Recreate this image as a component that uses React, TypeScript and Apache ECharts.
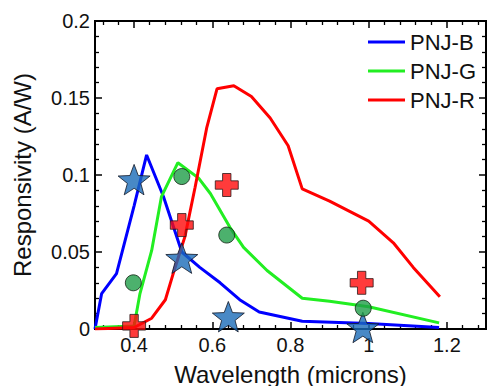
import React, { useEffect, useRef } from "react";
import * as echarts from "echarts";

const seriesNames = ["PNJ-B", "PNJ-G", "PNJ-R"];

const blueCurve: [number, number][] = [
  [0.3, 0], [0.317, 0.023], [0.355, 0.036], [0.4, 0.08], [0.432, 0.113],
  [0.475, 0.086], [0.522, 0.05], [0.568, 0.04], [0.62, 0.03], [0.67, 0.019],
  [0.72, 0.011], [0.83, 0.005], [1.0, 0.0035], [1.18, 0.001],
];

const greenCurve: [number, number][] = [
  [0.3, 0.001], [0.4, 0.002], [0.415, 0.023], [0.445, 0.051], [0.47, 0.086],
  [0.512, 0.108], [0.565, 0.098], [0.595, 0.088], [0.645, 0.066], [0.68, 0.053],
  [0.74, 0.038], [0.83, 0.02], [0.9, 0.018], [1.0, 0.0145], [1.18, 0.004],
];

const redCurve: [number, number][] = [
  [0.3, 0], [0.4, 0.001], [0.445, 0.007], [0.48, 0.019], [0.5, 0.036],
  [0.53, 0.06], [0.556, 0.092], [0.586, 0.131], [0.612, 0.156], [0.655, 0.158],
  [0.7, 0.151], [0.748, 0.137], [0.794, 0.119], [0.83, 0.091], [0.9, 0.083],
  [1.0, 0.07], [1.063, 0.056], [1.114, 0.04], [1.182, 0.021],
];

const starPoints: [number, number][] = [
  [0.4, 0.097], [0.522, 0.046], [0.641, 0.008], [0.985, 0.001],
];
const circlePoints: [number, number][] = [
  [0.398, 0.03], [0.522, 0.099], [0.637, 0.061], [0.986, 0.0135],
];
const crossPoints: [number, number][] = [
  [0.4, 0.002], [0.522, 0.0675], [0.637, 0.0935], [0.982, 0.03],
];

const xMin = 0.3;
const xMax = 1.3;
const yMin = 0;
const yMax = 0.2;

const FONT = "'Liberation Sans', Arial, sans-serif";
const STAR =
  "path://M50,0 L62.34,33.01 L97.55,34.55 L69.97,56.49 L79.39,90.45 L50,71 L20.61,90.45 L30.03,56.49 L2.45,34.55 L37.66,33.01 Z";
const CROSS = "path://M7,0 H15 V7 H22 V15 H15 V22 H7 V15 H0 V7 H7 Z";

const mkLine = () => ({ show: true, onZero: false, lineStyle: { color: "#000", width: 2 } });
const mkTick = () => ({ show: true, inside: true, length: 7, lineStyle: { color: "#000", width: 1.5 } });
const mkMinor = () => ({ show: true, splitNumber: 5, length: 4, lineStyle: { color: "#000", width: 1.3 } });

const mkX = (position: string, extra: any) => ({
  type: "value",
  position,
  min: xMin,
  max: xMax,
  splitNumber: 5,
  minInterval: 0.2,
  maxInterval: 0.2,
  axisLine: mkLine(),
  axisTick: mkTick(),
  minorTick: mkMinor(),
  splitLine: { show: false },
  ...extra,
});

const mkY = (position: string, extra: any) => ({
  type: "value",
  position,
  min: yMin,
  max: yMax,
  interval: 0.05,
  axisLine: mkLine(),
  axisTick: mkTick(),
  minorTick: mkMinor(),
  splitLine: { show: false },
  ...extra,
});

export default function App() {
  const ref = useRef<HTMLDivElement>(null);
  useEffect(() => {
    if (!ref.current) return;
    const chart = echarts.init(ref.current, undefined, { renderer: "svg" });
    const lineSeries = (name: string, data: [number, number][], color: string) => ({
      name,
      type: "line",
      data,
      showSymbol: false,
      symbol: "none",
      lineStyle: { color, width: 3 },
      itemStyle: { color },
      z: 2,
    });
    chart.setOption({
      animation: false,
      backgroundColor: "#fff",
      textStyle: { fontFamily: FONT },
      grid: {
        left: 95,
        right: 1,
        top: 21,
        bottom: 57,
        containLabel: false,
        outerBoundsMode: "none",
        show: true,
        borderColor: "#000",
        borderWidth: 2,
        backgroundColor: "transparent",
      },
      legend: {
        data: seriesNames,
        orient: "vertical",
        left: 368,
        top: 31,
        padding: 0,
        itemGap: 7,
        itemWidth: 37,
        itemHeight: 3,
        icon: "rect",
        textStyle: { fontFamily: FONT, fontSize: 22, color: "#111" },
      },
      xAxis: [
        mkX("bottom", {
          axisLabel: {
            show: true,
            showMinLabel: false,
            showMaxLabel: false,
            margin: 6,
            fontSize: 20,
            color: "#111",
            fontFamily: FONT,
          },
          name: "Wavelength (microns)",
          nameLocation: "middle",
          nameGap: 33,
          nameTextStyle: { fontSize: 24, color: "#111", fontFamily: FONT },
        }),
        mkX("top", { axisLabel: { show: false } }),
      ],
      yAxis: [
        mkY("left", {
          axisLabel: { show: true, margin: 5, fontSize: 20, color: "#111", fontFamily: FONT },
          name: "Responsivity (A/W)",
          nameLocation: "middle",
          nameGap: 61,
          nameTextStyle: { fontSize: 24, color: "#111", fontFamily: FONT },
        }),
        mkY("right", { axisLabel: { show: false } }),
      ],
      series: [
        lineSeries(seriesNames[0], blueCurve, "#0000ff"),
        lineSeries(seriesNames[1], greenCurve, "#22ee22"),
        lineSeries(seriesNames[2], redCurve, "#ff0000"),
        {
          name: "stars",
          type: "scatter",
          data: starPoints,
          symbol: STAR,
          symbolSize: 32,
          symbolKeepAspect: true,
          itemStyle: { color: "#1a6cb8", borderColor: "#111827", borderWidth: 1 },
          z: 3,
        },
        {
          name: "circles",
          type: "scatter",
          data: circlePoints,
          symbol: "circle",
          symbolSize: 16,
          itemStyle: { color: "#1f9e48", borderColor: "#122012", borderWidth: 1 },
          z: 4,
        },
        {
          name: "crosses",
          type: "scatter",
          data: crossPoints,
          symbol: CROSS,
          symbolSize: 23,
          itemStyle: { color: "#ff0a0a", borderColor: "#2a1a1a", borderWidth: 1 },
          z: 5,
        },
      ],
    });
    return () => chart.dispose();
  }, []);
  return (
    <div
      ref={ref}
      style={{ position: "fixed", left: 0, top: 0, width: 487, height: 386 }}
    />
  );
}
